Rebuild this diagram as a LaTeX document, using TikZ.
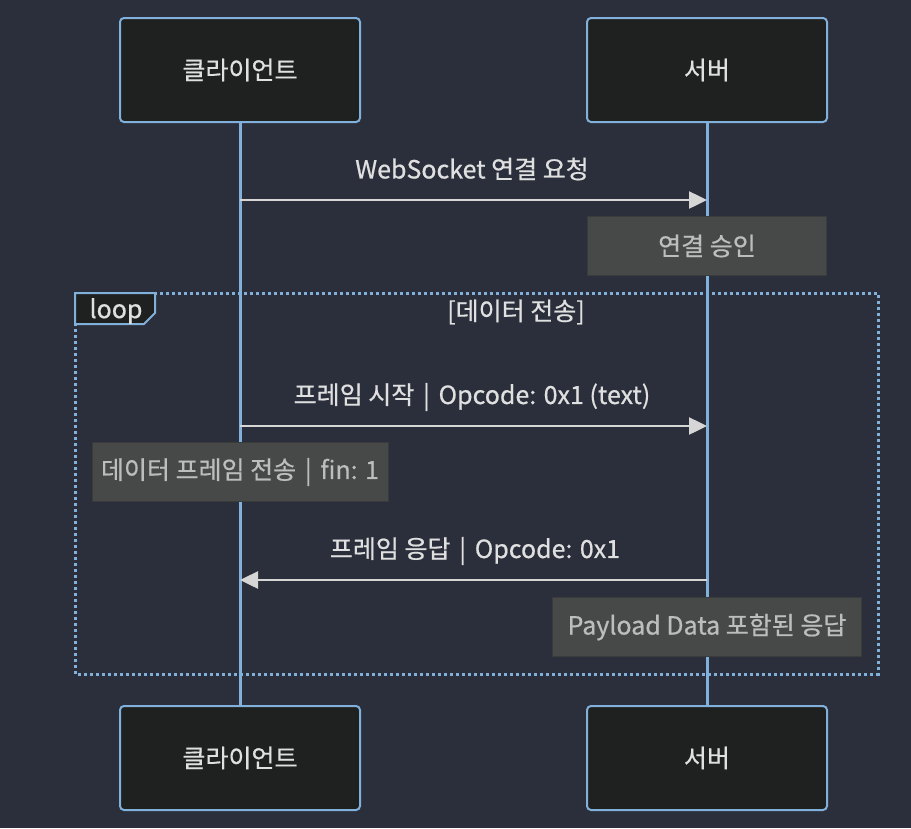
\documentclass[tikz,border=0pt]{standalone}
\usepackage{fontspec}
\setmainfont{Noto Sans CJK KR}[FakeBold=0.6]
\usetikzlibrary{arrows.meta}
\definecolor{bgc}{HTML}{2B2F3B}
\definecolor{actfill}{HTML}{1F2020}
\definecolor{lineblue}{HTML}{81B1DB}
\definecolor{notefill}{HTML}{474949}
\definecolor{noteedge}{HTML}{3A3C3C}
\definecolor{msgtext}{HTML}{E0E0E0}
\definecolor{notetext}{HTML}{BDBDBD}
\definecolor{arrowc}{HTML}{D6D6D6}
\newcommand{\sep}{\hspace{0.35em}|\hspace{0.35em}}
\tikzset{
  x=1pt, y=-1pt,
  txt/.style={font=\fontsize{25}{29}\selectfont},
  actor/.style={draw=lineblue, line width=2pt, fill=actfill, rounded corners=4pt,
    minimum width=240pt, minimum height=104pt, text=msgtext, txt, inner sep=0pt},
  lifeline/.style={draw=lineblue, line width=3pt},
  msg/.style={draw=arrowc, line width=2.5pt, -{Triangle[length=18pt,width=17pt]}},
  msglabel/.style={text=msgtext, txt, inner sep=0pt},
  notebox/.style={draw=noteedge, line width=1pt, fill=notefill, text=notetext, txt,
    minimum height=59pt, inner sep=0pt},
  loopline/.style={draw=lineblue, line width=3pt, dash pattern=on 3pt off 3pt},
}
\begin{document}
\begin{tikzpicture}
\fill[bgc] (0,0) rectangle (911,828);
\useasboundingbox (0,0) rectangle (911,828);
% actors
\node[actor] (c1) at (240,70) {클라이언트};
\node[actor] (s1) at (707,70) {서버};
\node[actor] (c2) at (240,758) {클라이언트};
\node[actor] (s2) at (707,758) {서버};
% lifelines
\draw[lifeline] (c1.south) -- (c2.north);
\draw[lifeline] (s1.south) -- (s2.north);
% loop frame
\coordinate (lt) at (75,293);
\coordinate (rb) at (878,674);
\draw[loopline] (lt) rectangle (rb);
\draw[draw=lineblue, line width=2pt, fill=actfill] (75,293) -- (155,293) -- (155,313) -- (144,324) -- (75,324) -- cycle;
\node[text=msgtext, txt, inner sep=0pt] (looptag) at (116,311) {loop};
\node[text=msgtext, txt, inner sep=0pt] (loopcond) at (516,312) {[데이터 전송]};
% message 1
\coordinate (m1a) at (240,200);
\coordinate (m1b) at (707,200);
\draw[msg] (m1a) -- (m1b);
\node[msglabel] (l1) at (472,169) {WebSocket 연결 요청};
\node[notebox, minimum width=239pt] (n1) at (707,246) {연결 승인};
% message 2
\coordinate (m2a) at (240,426);
\coordinate (m2b) at (707,426);
\draw[msg] (m2a) -- (m2b);
\node[msglabel] (l2) at (472,397) {프레임 시작\sep Opcode: 0x1 (text)};
\node[notebox, minimum width=296pt] (n2) at (240,472) {데이터 프레임 전송\sep fin: 1};
% message 3
\coordinate (m3a) at (707,580);
\coordinate (m3b) at (240,580);
\draw[msg] (m3a) -- (m3b);
\node[msglabel] (l3) at (475,551) {프레임 응답\sep Opcode: 0x1};
\node[notebox, minimum width=309pt] (n3) at (707,627) {Payload Data 포함된 응답};
\end{tikzpicture}
\end{document}
